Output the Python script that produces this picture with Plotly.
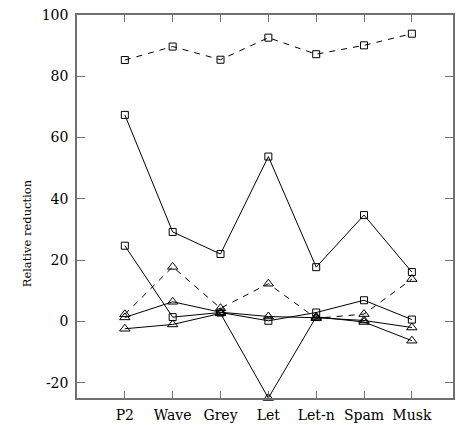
import plotly.graph_objects as go

# Datasets on the x axis
categories = ["P2", "Wave", "Grey", "Let", "Let-n", "Spam", "Musk"]
x_pos = [1, 2, 3, 4, 5, 6, 7]

# Relative reduction (%) per method
sq_dashed = [85.3, 89.7, 85.4, 92.6, 87.2, 90.1, 93.9]
sq_solid_high = [67.4, 29.2, 22.0, 53.8, 17.7, 34.7, 16.1]
sq_solid_low = [24.7, 1.4, 2.9, 0.2, 2.9, 6.9, 0.6]
tri_dashed = [2.3, 17.8, 4.3, 12.3, 1.0, 2.4, 13.8]
tri_solid_a = [1.3, 6.4, 3.0, 1.6, 1.2, 0.3, -2.0]
tri_solid_b = [-2.4, -1.0, 2.6, -25.0, 1.5, -0.2, -6.3]

y_ticks = [-20, 0, 20, 40, 60, 80, 100]
y_tick_labels = ["-20", "0", "20", "40", "60", "80", "100"]

SERIF = "DejaVu Serif"

series = [
    (sq_dashed, "square-open", "6px,6px", 7),
    (sq_solid_high, "square-open", "solid", 7),
    (sq_solid_low, "square-open", "solid", 7),
    (tri_dashed, "triangle-up-open", "6px,6px", 9),
    (tri_solid_a, "triangle-up-open", "solid", 9),
    (tri_solid_b, "triangle-up-open", "solid", 9),
]

fig = go.Figure()
for vals, sym, dash, size in series:
    fig.add_trace(go.Scatter(
        x=x_pos, y=vals, mode="lines+markers",
        line=dict(color="black", width=1, dash=dash),
        marker=dict(symbol=sym, size=size, color="black",
                    line=dict(color="black", width=1)),
        cliponaxis=False, showlegend=False,
    ))

axis_common = dict(
    showline=True, linecolor="#707070", linewidth=1.5, mirror="ticks",
    ticks="inside", tickcolor="#707070", tickwidth=1.2,
    showgrid=False, zeroline=False, automargin=False,
    tickfont=dict(family=SERIF, size=14, color="black"),
)

fig.update_xaxes(range=[0, 7.86], tickvals=x_pos, ticktext=categories,
                 ticklen=7, ticklabelstandoff=3, **axis_common)
fig.update_yaxes(range=[-25, 100], tickvals=y_ticks, ticktext=y_tick_labels,
                 ticklen=8, ticklabelstandoff=4, **axis_common)

fig.add_annotation(
    text="Relative reduction", xref="paper", yref="paper",
    x=-0.157, y=0.43, textangle=-90, showarrow=False,
    font=dict(family=SERIF, size=11.5, color="black"),
)

fig.update_layout(
    width=460, height=425,
    margin=dict(l=77, r=7, t=15, b=27),
    plot_bgcolor="white", paper_bgcolor="white",
    font=dict(family=SERIF),
)

fig.write_html("out.html")
